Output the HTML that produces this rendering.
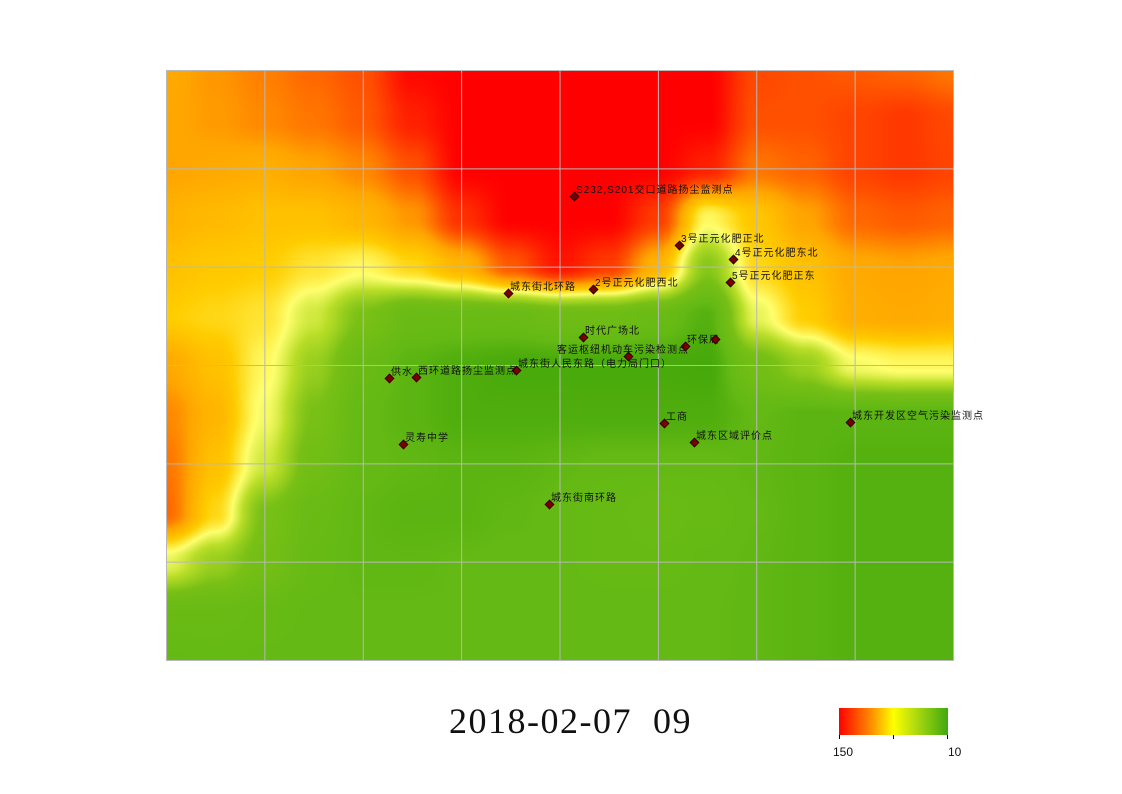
<!DOCTYPE html>
<html><head><meta charset="utf-8">
<style>
body{margin:0;background:#fff;width:1122px;height:794px;overflow:hidden;position:relative;font-family:"Liberation Sans","Noto Sans CJK SC",sans-serif}
#map{position:absolute;left:166px;top:70px;width:788px;height:591px}
.lbl{position:absolute;font-size:10px;letter-spacing:1px;color:#111;white-space:nowrap;line-height:10px;font-family:"Liberation Sans","WenQuanYi Zen Hei","Noto Sans CJK SC",sans-serif}
.dot{position:absolute;width:5px;height:5px;background:#7a0000;border:1px solid #300;transform:rotate(45deg);margin:-3px 0 0 -3px}
#title{position:absolute;left:449px;top:700px;font-family:"Liberation Serif",serif;font-size:36px;letter-spacing:1.5px;color:#111;white-space:pre}
#cbar{position:absolute;left:839px;top:708px;width:109px;height:27px;background:linear-gradient(to right,#ff0000,#ff9000 30%,#ffff00 50%,#a8d810 72%,#40a810)}
.tick{position:absolute;top:735px;width:1px;height:4px;background:#000}
.cl{position:absolute;top:745px;font-size:12px;color:#111}
</style></head><body>
<canvas id="map" width="788" height="591"></canvas>
<svg id="grid" style="position:absolute;left:0;top:0" width="1122" height="794"></svg>
<div id="stations"></div>
<div id="title">2018-02-07  09</div>
<div id="cbar"></div>
<div class="tick" style="left:839px"></div>
<div class="tick" style="left:893px"></div>
<div class="tick" style="left:947px"></div>
<div class="cl" style="left:833px">150</div>
<div class="cl" style="left:948px">10</div>
<script>
// grid sample values (17 cols x 13 rows, half-cell steps across the map)
const row0=[110,115,120,125,130,148,150,150,150,150,150,150,132,130,128,126,122];
const row1=[111,114,118,122,128,142,150,150,150,150,150,150,130,130,133,136,132];
const row2=[112,110,108,112,118,130,150,150,150,150,150,142,122,126,133,136,133];
const row3=[106,103,100,100,105,115,138,150,150,150,135,82,98,112,125,128,126];
const row4=[100,97,95,88,82,92,105,128,145,135,105,50,92,100,110,112,110];
const row5=[95,92,88,70,45,30,30,30,35,35,30,20,75,95,108,110,108];
const row6=[110,100,82,55,30,22,18,16,16,16,16,15,40,55,78,82,82];
const row7=[118,105,78,45,26,22,18,18,18,18,18,18,25,22,22,22,22];
const row8=[122,100,70,38,26,24,22,22,24,26,26,26,24,22,20,20,20];
const row9=[125,92,45,30,24,22,22,24,26,28,30,28,25,22,20,20,20];
const row10=[75,55,40,28,24,24,25,26,26,28,28,26,24,22,20,20,20];
const row11=[30,30,28,26,25,25,25,25,25,25,25,25,24,22,20,20,20];
const row12=[26,27,26,25,25,25,25,25,25,25,25,25,24,22,20,20,20];
const gridRows=[row0,row1,row2,row3,row4,row5,row6,row7,row8,row9,row10,row11,row12];

const stationNames=["S232,S201交口道路扬尘监测点","3号正元化肥正北","4号正元化肥东北","5号正元化肥正东","城东街北环路","2号正元化肥西北","时代广场北","环保局","","客运枢纽机动车污染检测点","城东街人民东路（电力局门口）","供水","西环道路扬尘监测点","灵寿中学","工商","城东区域评价点","城东开发区空气污染监测点","城东街南环路"];
const stationX=[574,679,733,730,508,593,583,685,715,628,516,389,416,403,664,694,850,549];
const stationY=[196,245,259,282,293,289,337,346,339,356,370,378,377,444,423,442,422,504];

const W=788,H=591,X0=166,Y0=70;
const ramp=[[150,255,0,0],[130,255,80,0],[112,255,165,0],[95,255,205,0],[80,255,255,110],[65,185,222,40],[45,120,192,22],[25,100,185,20],[10,55,160,5]];
function color(v){
  if(v>=ramp[0][0])return ramp[0].slice(1);
  for(let i=0;i<ramp.length-1;i++){const a=ramp[i],b=ramp[i+1];
    if(v<=a[0]&&v>=b[0]){const t=(a[0]-v)/(a[0]-b[0]);return [a[1]+(b[1]-a[1])*t,a[2]+(b[2]-a[2])*t,a[3]+(b[3]-a[3])*t];}}
  return ramp[ramp.length-1].slice(1);
}
const nc=gridRows[0].length,nr=gridRows.length;
const cv=document.getElementById('map'),ctx=cv.getContext('2d');
const img=ctx.createImageData(W,H);
function sm(t){return t*t*(3-2*t);}
for(let y=0;y<H;y++){const gy=y/(H-1)*(nr-1);const r=Math.min(nr-2,Math.floor(gy));const ty=sm(gy-r);
  for(let x=0;x<W;x++){const gx=x/(W-1)*(nc-1);const c=Math.min(nc-2,Math.floor(gx));const tx=sm(gx-c);
    const v=(gridRows[r][c]*(1-tx)+gridRows[r][c+1]*tx)*(1-ty)+(gridRows[r+1][c]*(1-tx)+gridRows[r+1][c+1]*tx)*ty;
    const col=color(v);const k=(y*W+x)*4;img.data[k]=col[0];img.data[k+1]=col[1];img.data[k+2]=col[2];img.data[k+3]=255;}}
ctx.putImageData(img,0,0);

const svg=document.getElementById('grid');const NS='http://www.w3.org/2000/svg';
for(let i=0;i<=8;i++){const x=X0+0.5+i*(W-1)/8;const l=document.createElementNS(NS,'line');
  l.setAttribute('x1',x);l.setAttribute('x2',x);l.setAttribute('y1',Y0);l.setAttribute('y2',Y0+H);l.setAttribute('stroke','#b8b8b8');
  
  
  svg.appendChild(l);}
for(let i=0;i<=6;i++){const y=Y0+0.5+i*(H-1)/6;const l=document.createElementNS(NS,'line');
  l.setAttribute('x1',X0);l.setAttribute('x2',X0+W);l.setAttribute('y1',y);l.setAttribute('y2',y);l.setAttribute('stroke','#b8b8b8');
  
  
  svg.appendChild(l);}

const st=document.getElementById('stations');
for(let i=0;i<stationNames.length;i++){
  const d=document.createElement('div');d.className='dot';d.style.left=stationX[i]+'px';d.style.top=stationY[i]+'px';
  
  
  st.appendChild(d);
  if(!stationNames[i])continue;
  const t=document.createElement('div');t.className='lbl';t.textContent=stationNames[i];
  if(i===9){t.style.left=(stationX[i]-71)+'px';}else{t.style.left=(stationX[i]+2)+'px';}
  t.style.top=(stationY[i]-10)+'px';
  
  
  st.appendChild(t);
}
</script>
</body></html>
